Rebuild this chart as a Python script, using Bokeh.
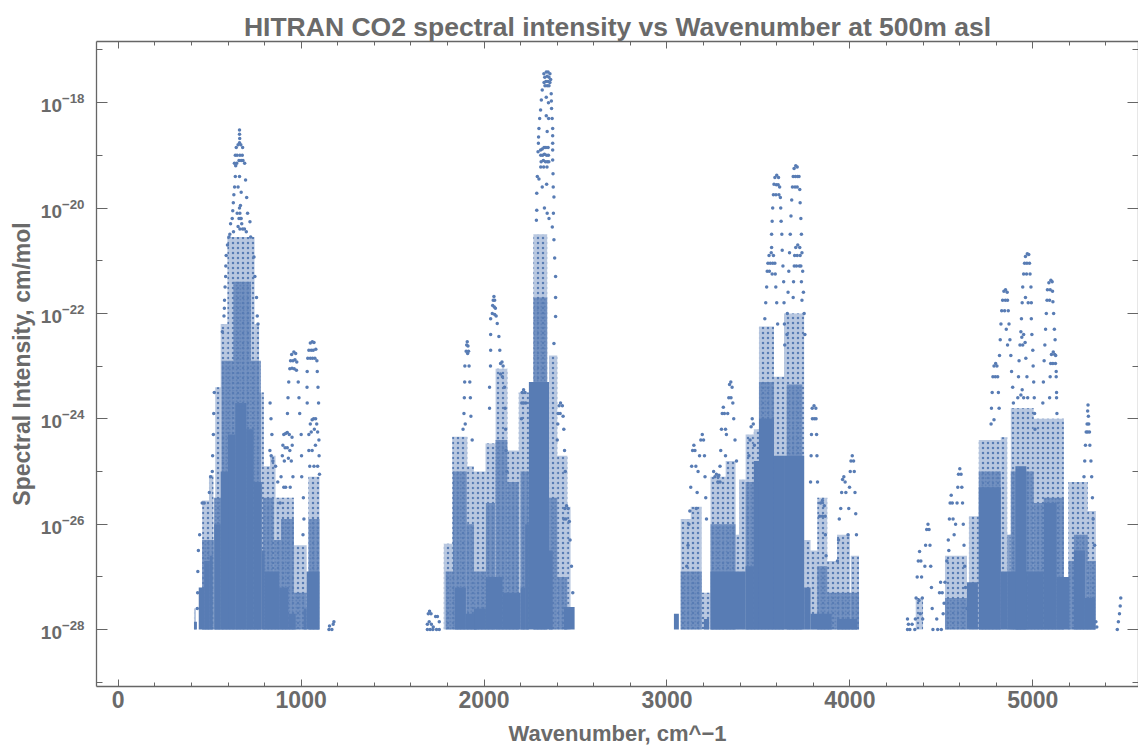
from bokeh.plotting import figure
from bokeh.embed import file_html
from bokeh.resources import INLINE
from bokeh.models import Range1d, FixedTicker, LinearAxis, LogAxis, LogTickFormatter, Title

TITLE = "HITRAN CO2 spectral intensity vs Wavenumber at 500m asl"
X_LABEL = "Wavenumber, cm^\u22121"
Y_LABEL = "Spectral Intensity, cm/mol"
x_major = [0, 1000, 2000, 3000, 4000, 5000]
x_minor = [200, 400, 600, 800, 1200, 1400, 1600, 1800, 2200, 2400, 2600, 2800, 3200, 3400, 3600, 3800, 4200, 4400, 4600, 4800, 5200, 5400]
y_major_exp = [-18, -20, -22, -24, -26, -28]
y_minor_exp = [-17, -19, -21, -23, -25, -27, -29]
FLOOR = -28.0

# Columns of lines, (from wavenumber, to wavenumber, log10 intensity of the top), by how thickly they lie
sparse = [(414,425,-27.6),(459,496,-25.55),(496,520,-25.07),(530,560,-23.4),(560,597,-22.2),(597,745,-20.55),(745,770,-22.2),(770,796,-23.5),(796,830,-24.9),(830,860,-24.7),(860,890,-25.5),(890,960,-25.5),(960,1030,-26.4),(1040,1100,-25.1),
(1780,1826,-26.37),(1826,1908,-24.34),(1908,1944,-24.9),(1944,2008,-25.0),(2008,2063,-24.47),(2063,2127,-23.05),(2127,2190,-24.6),(2190,2245,-23.5),(2270,2345,-20.5),(2355,2400,-22.8),(2400,2455,-24.7),(2455,2473,-25.67),
(3075,3130,-25.9),(3130,3190,-25.67),(3190,3238,-27.3),(3238,3321,-25.1),(3321,3375,-24.8),(3375,3394,-26.2),(3394,3430,-25.15),(3430,3475,-24.3),(3475,3503,-24.2),(3503,3585,-22.25),(3585,3640,-23.2),(3640,3750,-22),(3750,3785,-26.3),(3785,3822,-26.5),(3822,3876,-25.5),(3876,3930,-26.7),(3930,4000,-26.2),(4005,4050,-26.6),
(4360,4400,-27.4),(4520,4640,-26.6),(4651,4705,-25.85),(4705,4825,-24.4),(4825,4860,-24.35),(4880,5005,-23.8),(5005,5170,-24.0),(5170,5195,-27.1),(5195,5300,-25.2),(5300,5345,-25.75)]
dense = [(459,523,-26.3),(523,565,-25.5),(565,630,-22.9),(630,725,-21.4),(725,780,-22.9),(790,850,-25.5),(850,890,-26.3),(890,960,-25.9),(960,1030,-27.3),(1040,1100,-25.9),
(1790,1830,-26.9),(1830,1905,-25.0),(1905,1945,-26),(1945,2010,-26.9),(2010,2060,-25.6),(2063,2127,-24.4),(2127,2190,-25.2),(2200,2245,-25),(2270,2345,-21.7),(2355,2400,-25.5),(2400,2455,-27),
(3075,3190,-26.9),(3238,3375,-26.0),(3430,3503,-25.2),(3503,3585,-23.3),(3585,3640,-25.1),(3655,3740,-23.35),(3822,3876,-26.8),(3876,4050,-27.3),
(4520,4640,-27.4),(4705,4825,-25.0),(4860,4880,-26.2),(4880,5005,-25),(5005,5060,-25.6),(5060,5170,-25.5),(5195,5225,-26.7),(5225,5300,-26.2),(5300,5345,-26.7)]
solid = [(414,430,-27.85),(440,470,-27.2),(470,500,-26.7),(500,515,-26.6),(525,560,-26.0),(560,600,-25),(600,640,-24.3),(640,700,-23.7),(700,740,-24.2),(740,785,-25.2),(785,800,-26.5),(800,880,-26.9),(880,930,-27.2),(930,970,-27.7),(1015,1030,-27.6),(1030,1100,-26.9),
(1840,1900,-27.2),(1900,1960,-27.7),(1945,2010,-27.6),(2010,2100,-27.0),(2100,2200,-27.3),(2200,2225,-27.2),(2225,2245,-26),(2245,2355,-23.3),(2355,2375,-26.5),(2437,2495,-27.57),
(3038,3065,-27.7),(3202,3230,-27.8),(3238,3430,-26.9),(3430,3475,-26.8),(3475,3503,-24.8),(3503,3585,-24.0),(3585,3640,-24.7),(3640,3750,-24.7),(3750,3785,-27.2),(3785,3900,-27.7),(3930,4040,-27.8),
(4640,4700,-27.1),(4705,4825,-25.3),(4825,4860,-26.9),(4860,4970,-26.9),(4905,4965,-24.9),(4970,5060,-26.9),(5130,5200,-27.0),(5060,5130,-25.6),(5225,5285,-26.5),(5285,5340,-27.4)]

# Individually visible lines
lines_1 = [(663,-18.52),(663,-18.6),(664,-18.68),(663,-18.76),(645,-18.85),(655,-18.8),(670,-18.8),(680,-18.85),(640,-19),(650,-19),(665,-19),(678,-19),(635,-19.15),(648,-19.15),(660,-19.1),(672,-19.1),(682,-19.1),(642,-19.2),(640,-19.4),(636,-19.6),(632,-19.75),(629,-19.9),(626,-20.05),(623,-20.2),(614,-20.3),(605,-20.55),(597,-20.7),(590,-20.9),(588,-21.1),(587,-21.3),(584,-21.5),(581,-21.75),(580,-21.9),(578,-22.05),(569,-22.35),(691,-19.15),(696,-19.47),(702,-19.8),(707,-20.1),(720,-20.26),(724,-20.55),(742,-20.93),(747,-21.3),(756,-21.7),(760,-22.05),(764,-22.2),(663,-19.4),(672,-19.7),(655,-19.6),(668,-19.95),(650,-20.1),(660,-20.2),(663,-20.0),(665,-20.1),(668,-20.2),(672,-20.2),(675,-20.3),(665,-20.4),(680,-20.4),(655,-20.35),(690,-20.4),(700,-20.45),(610,-20.5),(630,-20.45),
(525,-23.5),(522,-23.9),(520,-24.3),(516,-24.7),(514,-25.0),(505,-25.1),(498,-25.4),(470,-25.6),(459,-25.6),(445,-26.2),(438,-26.5),(435,-26.9),(434,-27.3),(432,-27.6),
(960,-22.73),(948,-22.78),(970,-22.76),(942,-22.9),(955,-22.9),(966,-22.88),(976,-22.92),(938,-23.05),(950,-23.04),(962,-23.05),(974,-23.08),(932,-23.3),(984,-23.3),(928,-23.6),(988,-23.6),(925,-23.9),(992,-23.9),(1000,-24.3),(1002,-24.7),(1003,-25.1),(1012,-25.5),(1015,-25.9),(1010,-26.2),
(840,-24.3),(835,-24.0),(830,-23.7),(829,-24.6),(836,-24.7),(845,-24.8),(860,-24.9),(872,-25.2),(885,-25.6),(924,-24.26),(905,-24.3),(915,-24.28),(935,-24.3),(950,-24.35),(900,-24.5),(912,-24.55),(924,-24.55),(938,-24.6),(951,-24.5),(897,-24.7),(908,-24.8),(930,-24.75),(946,-24.8),(890,-25.1),(955,-25.1),(905,-25.3),(915,-25.3),(940,-25.3),
(1061,-22.54),(1050,-22.56),(1070,-22.55),(1042,-22.7),(1055,-22.7),(1066,-22.7),(1080,-22.68),(1036,-22.85),(1050,-22.85),(1062,-22.85),(1075,-22.85),(1086,-22.9),(1033,-23.1),(1088,-23.1),(1032,-23.4),(1092,-23.4),(1033,-23.7),(1095,-23.7),(1079,-24.0),(1060,-24.02),(1068,-24.0),(1050,-24.1),(1085,-24.1),(1042,-24.3),(1055,-24.25),(1072,-24.2),(1090,-24.25),(1097,-24.4),(1042,-24.6),(1060,-24.6),(1078,-24.5),(1098,-24.7),(1047,-24.9),(1070,-24.9),(1090,-24.9),(1100,-25.05),
(1152,-28),(1155,-27.93),(1168,-28),(1175,-27.9),(1179,-27.85),(1690,-27.9),(1695,-27.7),(1702,-27.65),(1710,-27.7),(1690,-28),(1700,-27.85),(1712,-27.9),(1722,-27.95),(1735,-27.75),(1745,-27.75),(1755,-27.85),(1705,-28),(1720,-28),(1740,-28),(1755,-28)]
lines_2 = [(1908,-22.54),(1905,-22.6),(1912,-22.62),(1902,-22.72),(1910,-22.76),(1915,-22.72),(1895,-23.0),(1918,-23.0),(1894,-23.3),(1922,-23.3),(1892,-23.6),(1925,-23.6),(1890,-23.9),(1928,-23.95),(1885,-24.2),(1935,-24.4),(1897,-24.1),
(2054,-21.68),(2050,-21.75),(2058,-21.75),(2047,-21.85),(2056,-21.88),(2062,-21.9),(2045,-22.0),(2058,-22.02),(2066,-22.05),(2036,-22.1),(2072,-22.19),(2036,-22.4),(2081,-22.44),(2036,-22.7),(2086,-22.7),(2035,-23),(2090,-22.95),(2098,-22.92),(2104,-23.0),(2090,-23.15),(2100,-23.2),(2030,-23.4),(2112,-23.4),(2030,-23.8),(2115,-23.8),(2118,-24.2),(2120,-24.6),(2125,-25),
(2216,-23.45),(2208,-23.5),(2224,-23.5),(2206,-23.7),(2216,-23.7),(2228,-23.7),(2204,-24),
(2327,-17.45),(2340,-17.42),(2350,-17.42),(2360,-17.45),(2332,-17.52),(2345,-17.5),(2355,-17.52),(2364,-17.56),(2328,-17.62),(2338,-17.6),(2350,-17.6),(2360,-17.62),(2333,-17.68),(2345,-17.68),(2355,-17.68),(2318,-17.76),(2313,-17.95),(2309,-18.14),(2304,-18.3),(2300,-18.49),(2298,-18.65),(2297,-18.77),(2295,-18.93),(2367,-17.83),(2368,-17.97),(2369,-18.11),(2372,-18.3),(2375,-18.49),(2375,-18.63),(2375,-18.77),(2375,-18.9),(2375,-19.09),(2377,-19.35),(2378,-19.6),(2382,-19.79),(2379,-20.1),(2373,-20.36),(2382,-20.6),(2386,-20.95),(2391,-21.3),(2391,-21.7),(2391,-22.06),(2382,-22.57),(2340,-17.9),(2352,-18.0),(2340,-18.25),(2353,-18.3),(2345,-18.55),
(2309,-18.9),(2318,-18.88),(2328,-18.85),(2338,-18.85),(2350,-18.85),(2310,-19),(2320,-19),(2330,-18.98),(2342,-19),(2352,-19),(2312,-19.12),(2324,-19.1),(2336,-19.12),(2346,-19.12),(2354,-19.12),(2310,-19.22),(2326,-19.22),(2344,-19.22),(2291,-19.4),(2300,-19.45),(2288,-19.72),(2288,-20.04),(2286,-20.23),(2318,-19.6),(2342,-19.55),(2330,-20.0),(2345,-20.1),(2355,-20.2),
(2418,-23.7),(2410,-23.75),(2428,-23.75),(2405,-23.9),(2416,-23.9),(2432,-23.95),(2403,-24.1),(2436,-24.2),(2400,-24.4),(2440,-24.6),(2444,-25),(2451,-25.65),(2442,-25.7),(2460,-25.7),(2436,-25.9),(2447,-25.9),(2466,-25.95),(2470,-26.3),(2478,-26.8),(2485,-27.3)]
lines_3 = [(3193,-24.3),(3185,-24.4),(3200,-24.4),(3178,-24.7),(3205,-24.7),(3170,-25.0),(3208,-25.1),(3165,-25.4),(3212,-25.5),(3160,-25.7),(3216,-25.9),(3147,-24.5),(3140,-24.6),(3153,-24.6),(3135,-24.9),(3158,-24.9),(3130,-25.3),(3125,-25.75),(3120,-26),(3115,-26.4),(3108,-26.8),(3284,-25.07),(3278,-25.2),(3290,-25.2),(3308,-23.78),(3302,-23.9),(3314,-23.9),(3298,-24.2),(3320,-24.2),(3294,-24.6),(3290,-24.9),
(3349,-23.3),(3342,-23.35),(3356,-23.4),(3338,-23.6),(3350,-23.6),(3360,-23.7),(3332,-23.9),(3365,-24.0),(3325,-24.3),(3372,-24.4),(3320,-24.7),(3380,-24.8),(3255,-25),(3262,-25.1),(3270,-25.05),(3280,-25.1),(3466,-24.0),(3460,-24.15),(3472,-24.1),(3454,-24.4),(3448,-24.7),(3478,-24.5),
(3600,-19.38),(3590,-19.42),(3610,-19.42),(3585,-19.55),(3598,-19.56),(3608,-19.56),(3616,-19.6),(3582,-19.75),(3596,-19.75),(3612,-19.75),(3620,-19.8),(3578,-20),(3622,-20),(3575,-20.25),(3624,-20.25),(3572,-20.5),(3628,-20.5),(3572,-20.75),(3630,-20.8),(3634,-21.1),(3638,-21.4),(3640,-21.8),(3642,-22.2),(3644,-22.6),
(3704,-19.2),(3695,-19.25),(3712,-19.22),(3690,-19.4),(3702,-19.4),(3714,-19.4),(3722,-19.4),(3686,-19.6),(3700,-19.6),(3712,-19.6),(3726,-19.65),(3682,-19.85),(3728,-19.9),(3678,-20.15),(3732,-20.2),(3674,-20.5),(3735,-20.5),(3670,-20.85),(3738,-20.85),(3666,-21.2),(3742,-21.2),(3662,-21.6),(3746,-21.6),(3658,-22),(3750,-22),(3656,-22.4),(3754,-22.4),
(3570,-20.85),(3558,-20.9),(3582,-20.9),(3552,-21.05),(3565,-21.05),(3578,-21.05),(3590,-21.05),(3548,-21.2),(3560,-21.2),(3575,-21.25),(3592,-21.25),(3545,-21.5),(3595,-21.5),(3540,-21.8),(3600,-21.8),(3535,-22.1),(3605,-22.2),
(3715,-20.7),(3704,-20.75),(3726,-20.75),(3698,-20.9),(3712,-20.9),(3728,-20.9),(3696,-21.1),(3708,-21.1),(3724,-21.1),(3732,-21.1),(3692,-21.4),(3735,-21.4),(3690,-21.7),(3738,-21.75),
(3804,-23.75),(3794,-23.8),(3814,-23.8),(3795,-24),(3806,-24),(3815,-24),(3790,-24.3),(3818,-24.3),(3788,-24.7),(3820,-24.7),(3785,-25.2),(3823,-25.2),(3850,-25.55),(3840,-25.6),(3860,-25.65),(3835,-25.85),(3850,-25.85),(3865,-25.85),(3866,-26.2),(3870,-26.6),
(3967,-25.1),(3960,-25.15),(3974,-25.2),(3955,-25.4),(3978,-25.4),(3950,-25.7),(4013,-24.7),(4006,-24.8),(4020,-24.8),(4002,-25.0),(4024,-25.0),(3998,-25.3),(4028,-25.4),(3994,-25.7),(4032,-25.8),(4036,-26.2),(3990,-26.2),(3942,-25.9),(3938,-26.3),(3932,-26.7)]
lines_4 = [(4315,-27.8),(4320,-27.9),(4328,-28),(4315,-28),(4340,-27.9),(4355,-28),(4381,-26.52),(4374,-26.7),(4388,-26.7),(4368,-27),(4392,-27),(4362,-27.4),(4378,-27.45),(4396,-27.4),(4358,-27.8),(4385,-27.7),(4398,-27.8),(4427,-26),(4420,-26.1),(4433,-26.1),(4414,-26.4),(4438,-26.4),(4410,-26.8),(4442,-26.8),(4446,-27.2),(4450,-27.6),(4454,-28),(4475,-27.8),(4480,-28),
(4496,-27.1),(4490,-27.3),(4505,-27.3),(4510,-27.7),(4500,-28),(4554,-25.45),(4548,-25.6),(4560,-25.6),(4544,-25.9),(4564,-25.9),(4538,-26.3),(4541,-26.5),(4530,-26.7),(4520,-27.1),(4515,-27.5),
(4601,-24.95),(4594,-25.05),(4608,-25.05),(4590,-25.3),(4612,-25.3),(4586,-25.6),(4616,-25.6),(4578,-26.0),(4570,-26.2),(4620,-26),(4624,-26.4),(4628,-26.8),(4632,-27.2),(4640,-27.6),
(4851,-21.55),(4842,-21.58),(4860,-21.6),(4835,-21.75),(4850,-21.75),(4862,-21.75),(4830,-21.95),(4846,-21.95),(4866,-21.95),(4826,-22.2),(4870,-22.2),(4822,-22.5),(4875,-22.5),(4818,-22.8),(4880,-22.8),(4884,-23.1),(4890,-23.4),(4894,-23.7),(4855,-22.3),(4862,-22.6),
(4970,-20.87),(4960,-20.92),(4978,-20.88),(4955,-21.05),(4968,-21.05),(4982,-21.05),(4950,-21.25),(4966,-21.25),(4985,-21.25),(4945,-21.5),(4990,-21.5),(4942,-21.8),(4960,-21.7),(4975,-21.8),(4992,-21.8),(4938,-22.1),(4992,-22.1),(4935,-22.35),(4995,-22.4),(5000,-22.7),(5002,-23),(5005,-23.3),(5008,-23.6),(5010,-23.9),(5012,-24.2),
(5099,-21.37),(5088,-21.42),(5106,-21.4),(5080,-21.55),(5095,-21.55),(5108,-21.58),(5078,-21.75),(5092,-21.75),(5110,-21.78),(5074,-22),(5114,-22),(5070,-22.3),(5118,-22.3),(5066,-22.6),(5122,-22.5),(5062,-22.9),(5125,-22.8),(5058,-23.3),(5128,-23.1),(5055,-23.7),(5130,-23.5),(5132,-23.9),
(4950,-22.4),(4940,-22.45),(4930,-22.6),(4945,-22.6),(4958,-22.55),(4925,-22.9),(4962,-22.85),(4922,-23.2),(4968,-23.2),(4918,-23.6),(4972,-23.6),(4942,-23.45),(4935,-23.55),(4950,-23.6),
(5112,-22.73),(5102,-22.78),(5120,-22.78),(5098,-22.95),(5110,-22.95),(5124,-22.95),(5095,-23.2),(5128,-23.2),(5092,-23.6),(5130,-23.6),
(4797,-22.95),(4788,-23.0),(4804,-23.0),(4782,-23.2),(4795,-23.2),(4808,-23.2),(4778,-23.5),(4812,-23.5),(4774,-23.8),(4816,-23.8),(4788,-24.02),(4772,-24.1),
(5302,-23.74),(5300,-23.85),(5304,-23.95),(5297,-24.1),(5306,-24.1),(5292,-24.25),(5300,-24.25),(5310,-24.25),(5288,-24.5),(5312,-24.5),(5284,-24.8),(5318,-24.8),(5280,-25.1),(5322,-25.1),(5326,-25.5),(5330,-25.9),(5338,-26.4),
(5345,-27.85),(5350,-27.95),(5481,-27.4),(5478,-27.55),(5474,-27.7),(5468,-27.85),(5462,-28)]
all_lines = lines_1 + lines_2 + lines_3 + lines_4

BLUE = "#587CB4"
GREY = "#666666"
TEXT = "#6A6A6A"

p = figure(frame_width=1042, frame_height=645, y_axis_type="log",
           x_range=Range1d(-119, 5578), y_range=Range1d(10.0**-29.08, 10.0**-16.84),
           output_backend="svg", toolbar_location=None,
           min_border_left=96, min_border_right=0, min_border_top=41, min_border_bottom=60,
           background_fill_color="white", border_fill_color="white", outline_line_color=None)
p.grid.visible = False

x_ticker = FixedTicker(ticks=x_major, minor_ticks=x_minor)
y_ticker = FixedTicker(ticks=[10.0**e for e in y_major_exp], minor_ticks=[10.0**e for e in y_minor_exp])

def style(ax, xaxis):
    ax.axis_line_color = GREY
    ax.axis_line_width = 1.3
    ax.major_tick_line_color = GREY
    ax.minor_tick_line_color = GREY
    ax.major_tick_out = 0
    ax.minor_tick_out = 0
    ax.major_tick_in = 7 if xaxis else 11
    ax.minor_tick_in = 4 if xaxis else 6

b = p.xaxis[0]
b.ticker = x_ticker
style(b, True)
l = p.yaxis[0]
l.ticker = y_ticker
l.formatter = LogTickFormatter()
style(l, False)
for ax, size in ((b, "23px"), (l, "19px")):
    ax.major_label_text_font = "Liberation Sans"
    ax.major_label_text_font_style = "bold"
    ax.major_label_text_font_size = size
    ax.major_label_text_color = TEXT
b.axis_label = X_LABEL
b.axis_label_text_font = "Liberation Sans"
b.axis_label_text_font_style = "bold"
b.axis_label_text_font_size = "22px"
b.axis_label_text_color = TEXT
b.major_label_standoff = 4
b.axis_label_standoff = 10
l.major_label_standoff = 12

top = LinearAxis(ticker=x_ticker, major_label_text_font_size="1px", major_label_text_color=None, major_label_standoff=0)
style(top, True)
p.add_layout(top, "above")
right = LogAxis(ticker=y_ticker, major_label_text_font_size="1px", major_label_text_color=None, major_label_standoff=0)
style(right, False)
p.add_layout(right, "right")

p.add_layout(Title(text=TITLE, align="center", offset=1, standoff=0, text_font="Liberation Sans",
                   text_font_style="bold", text_font_size="26.5px", text_color=TEXT), "above")
p.add_layout(Title(text=Y_LABEL, align="center", offset=23, standoff=6, text_font="Liberation Sans",
                   text_font_style="bold", text_font_size="23px", text_color=TEXT), "left")

def columns(rows, **kw):
    p.quad(left=[r[0] for r in rows], right=[r[1] for r in rows],
           top=[10.0**r[2] for r in rows], bottom=[10.0**FLOOR] * len(rows), line_color=None, fill_color=BLUE, **kw)

columns(sparse, fill_alpha=0.42, hatch_pattern="dot", hatch_color=BLUE, hatch_scale=5, hatch_weight=2.6)
columns(dense, fill_alpha=0.72, hatch_pattern="dot", hatch_color=BLUE, hatch_scale=3.5, hatch_weight=2.6)
columns(solid, fill_alpha=1)
p.scatter(x=[a for a, _ in all_lines], y=[10.0**c for _, c in all_lines], size=3.5, marker="circle",
          fill_color=BLUE, line_color=None)

open("out.html", "w").write(file_html(p, INLINE))
